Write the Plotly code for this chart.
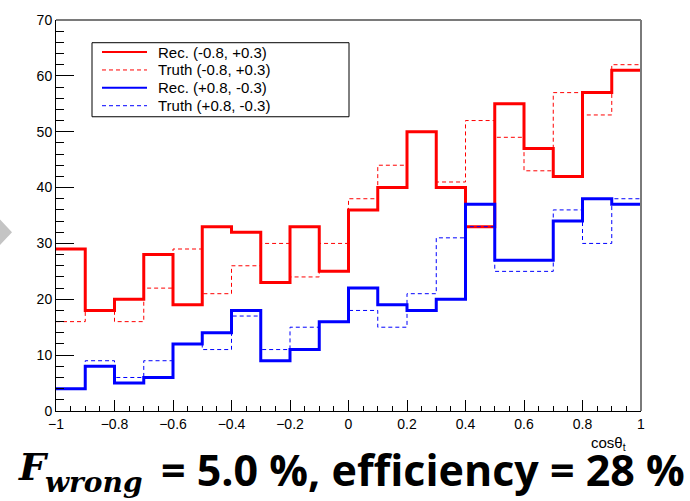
import numpy as np
import plotly.graph_objects as go

# cos(theta_t) binning: 20 bins from -1 to 1
bin_edges = np.round(np.linspace(-1.0, 1.0, 21), 2)

# Histogram contents per bin
rec_neg = [29, 18, 20, 28, 19, 33, 32, 23, 33, 25, 36, 40, 50, 40, 33, 55, 47, 42, 57, 61]
truth_neg = [16, 18, 16, 22, 29, 21, 26, 30, 24, 30, 38, 44, 50, 41, 52, 49, 43, 57, 53, 62]
rec_pos = [4, 8, 5, 6, 12, 14, 18, 9, 11, 16, 22, 19, 18, 20, 37, 27, 27, 34, 38, 37]
truth_pos = [4, 9, 6, 9, 12, 11, 17, 11, 15, 16, 18, 15, 21, 31, 33, 25, 25, 36, 30, 38]

series_names = ["Rec. (-0.8, +0.3)", "Truth (-0.8, +0.3)", "Rec. (+0.8, -0.3)", "Truth (+0.8, -0.3)"]

# plot-area geometry (pixels) used to place paper-referenced decorations
W, H = 690, 501
L, R, T, B = 56, 49, 15, 90
PW, PH = W - L - R, H - T - B


def px_x(px):
    return (px - L) / PW


def px_y(py):
    return (H - B - py) / PH


def step(values):
    return list(values) + [values[-1]]


SANS = "Liberation Sans, Arial, Helvetica, sans-serif"

fig = go.Figure()
styles = [
    (rec_neg, "#ff0000", 3, "solid", 2),
    (truth_neg, "#ff0000", 1, "4px,3px", 1),
    (rec_pos, "#0000ff", 3, "solid", 2),
    (truth_pos, "#0000ff", 1, "4px,3px", 1),
]
for (vals, color, width, dash, _), name in zip(styles, series_names):
    fig.add_trace(go.Scatter(
        x=bin_edges, y=step(vals), mode="lines", name=name,
        line=dict(shape="hv", color=color, width=width, dash=dash),
        hoverinfo="skip", showlegend=False,
    ))

axis_font = dict(family=SANS, size=14, color="#000000")

fig.update_xaxes(
    range=[-1, 1], dtick=0.2, tick0=-1, showgrid=False, zeroline=False,
    showline=True, linecolor="#000000", linewidth=1,
    ticks="inside", ticklen=11, tickcolor="#000000", tickwidth=1,
    minor=dict(dtick=0.05, ticks="inside", ticklen=5, tickcolor="#000000", tickwidth=1),
    tickfont=axis_font,
)
fig.update_yaxes(
    range=[0, 70], dtick=10, showgrid=False, zeroline=False,
    showline=True, linecolor="#000000", linewidth=1,
    ticks="inside", ticklen=18, tickcolor="#000000", tickwidth=1,
    minor=dict(dtick=2, ticks="inside", ticklen=8, tickcolor="#000000", tickwidth=1),
    tickfont=axis_font,
)

shapes = [
    # grey frame on top and right
    dict(type="line", xref="paper", yref="paper", x0=0, x1=1, y0=1, y1=1,
         line=dict(color="#7a7a7a", width=2)),
    dict(type="line", xref="paper", yref="paper", x0=1, x1=1, y0=0, y1=1,
         line=dict(color="#7a7a7a", width=2)),
    # legend box
    dict(type="rect", xref="paper", yref="paper",
         x0=px_x(92), x1=px_x(349), y0=px_y(113), y1=px_y(38),
         line=dict(color="#000000", width=1), fillcolor="rgba(0,0,0,0)"),
    # grey arrow at left edge
    dict(type="path", xref="paper", yref="paper",
         path="M {} {} L {} {} L {} {} Z".format(px_x(0), px_y(217), px_x(12), px_y(230), px_x(0), px_y(243)),
         fillcolor="#c4c4c4", line=dict(width=0)),
]

annotations = []

# legend entries: sample line + label
for i, ((_, color, _, dash, lw), name) in enumerate(zip(styles, series_names)):
    row_y = 47.5 + 18.1 * i
    shapes.append(dict(type="line", xref="paper", yref="paper",
                       x0=px_x(102), x1=px_x(147), y0=px_y(row_y), y1=px_y(row_y),
                       line=dict(color=color, width=lw, dash=dash)))
    annotations.append(dict(xref="paper", yref="paper", x=px_x(156), y=px_y(row_y),
                            xanchor="left", yanchor="middle", text=name, showarrow=False,
                            font=dict(family=SANS, size=15, color="#000000")))

annotations += [
    # axis title
    dict(xref="paper", yref="paper", x=px_x(628), y=px_y(444), xanchor="right", yanchor="middle",
         text="cosθ<sub>t</sub>", showarrow=False,
         font=dict(family=SANS, size=15, color="#000000")),
    # summary line: F_wrong and efficiency
    dict(xref="paper", yref="paper", x=px_x(16), y=px_y(467), xanchor="left", yanchor="middle",
         text="<b><i>F</i></b>", showarrow=False,
         font=dict(family="DejaVu Serif, serif", size=38, color="#000000")),
    dict(xref="paper", yref="paper", x=px_x(43), y=px_y(483), xanchor="left", yanchor="middle",
         text="<b><i>wrong</i></b>", showarrow=False,
         font=dict(family="DejaVu Serif, serif", size=28, color="#000000")),
    dict(xref="paper", yref="paper", x=px_x(159), y=px_y(470), xanchor="left", yanchor="middle",
         text="= 5.0 %, efficiency = 28 %", showarrow=False,
         font=dict(family="Open Sans, sans-serif", size=43, color="#000000", weight="bold")),
]

fig.update_layout(
    width=W, height=H, autosize=False,
    margin=dict(l=L, r=R, t=T, b=B, pad=0),
    paper_bgcolor="#ffffff", plot_bgcolor="#ffffff",
    shapes=shapes, annotations=annotations, showlegend=False,
)

fig.write_html("out.html")
